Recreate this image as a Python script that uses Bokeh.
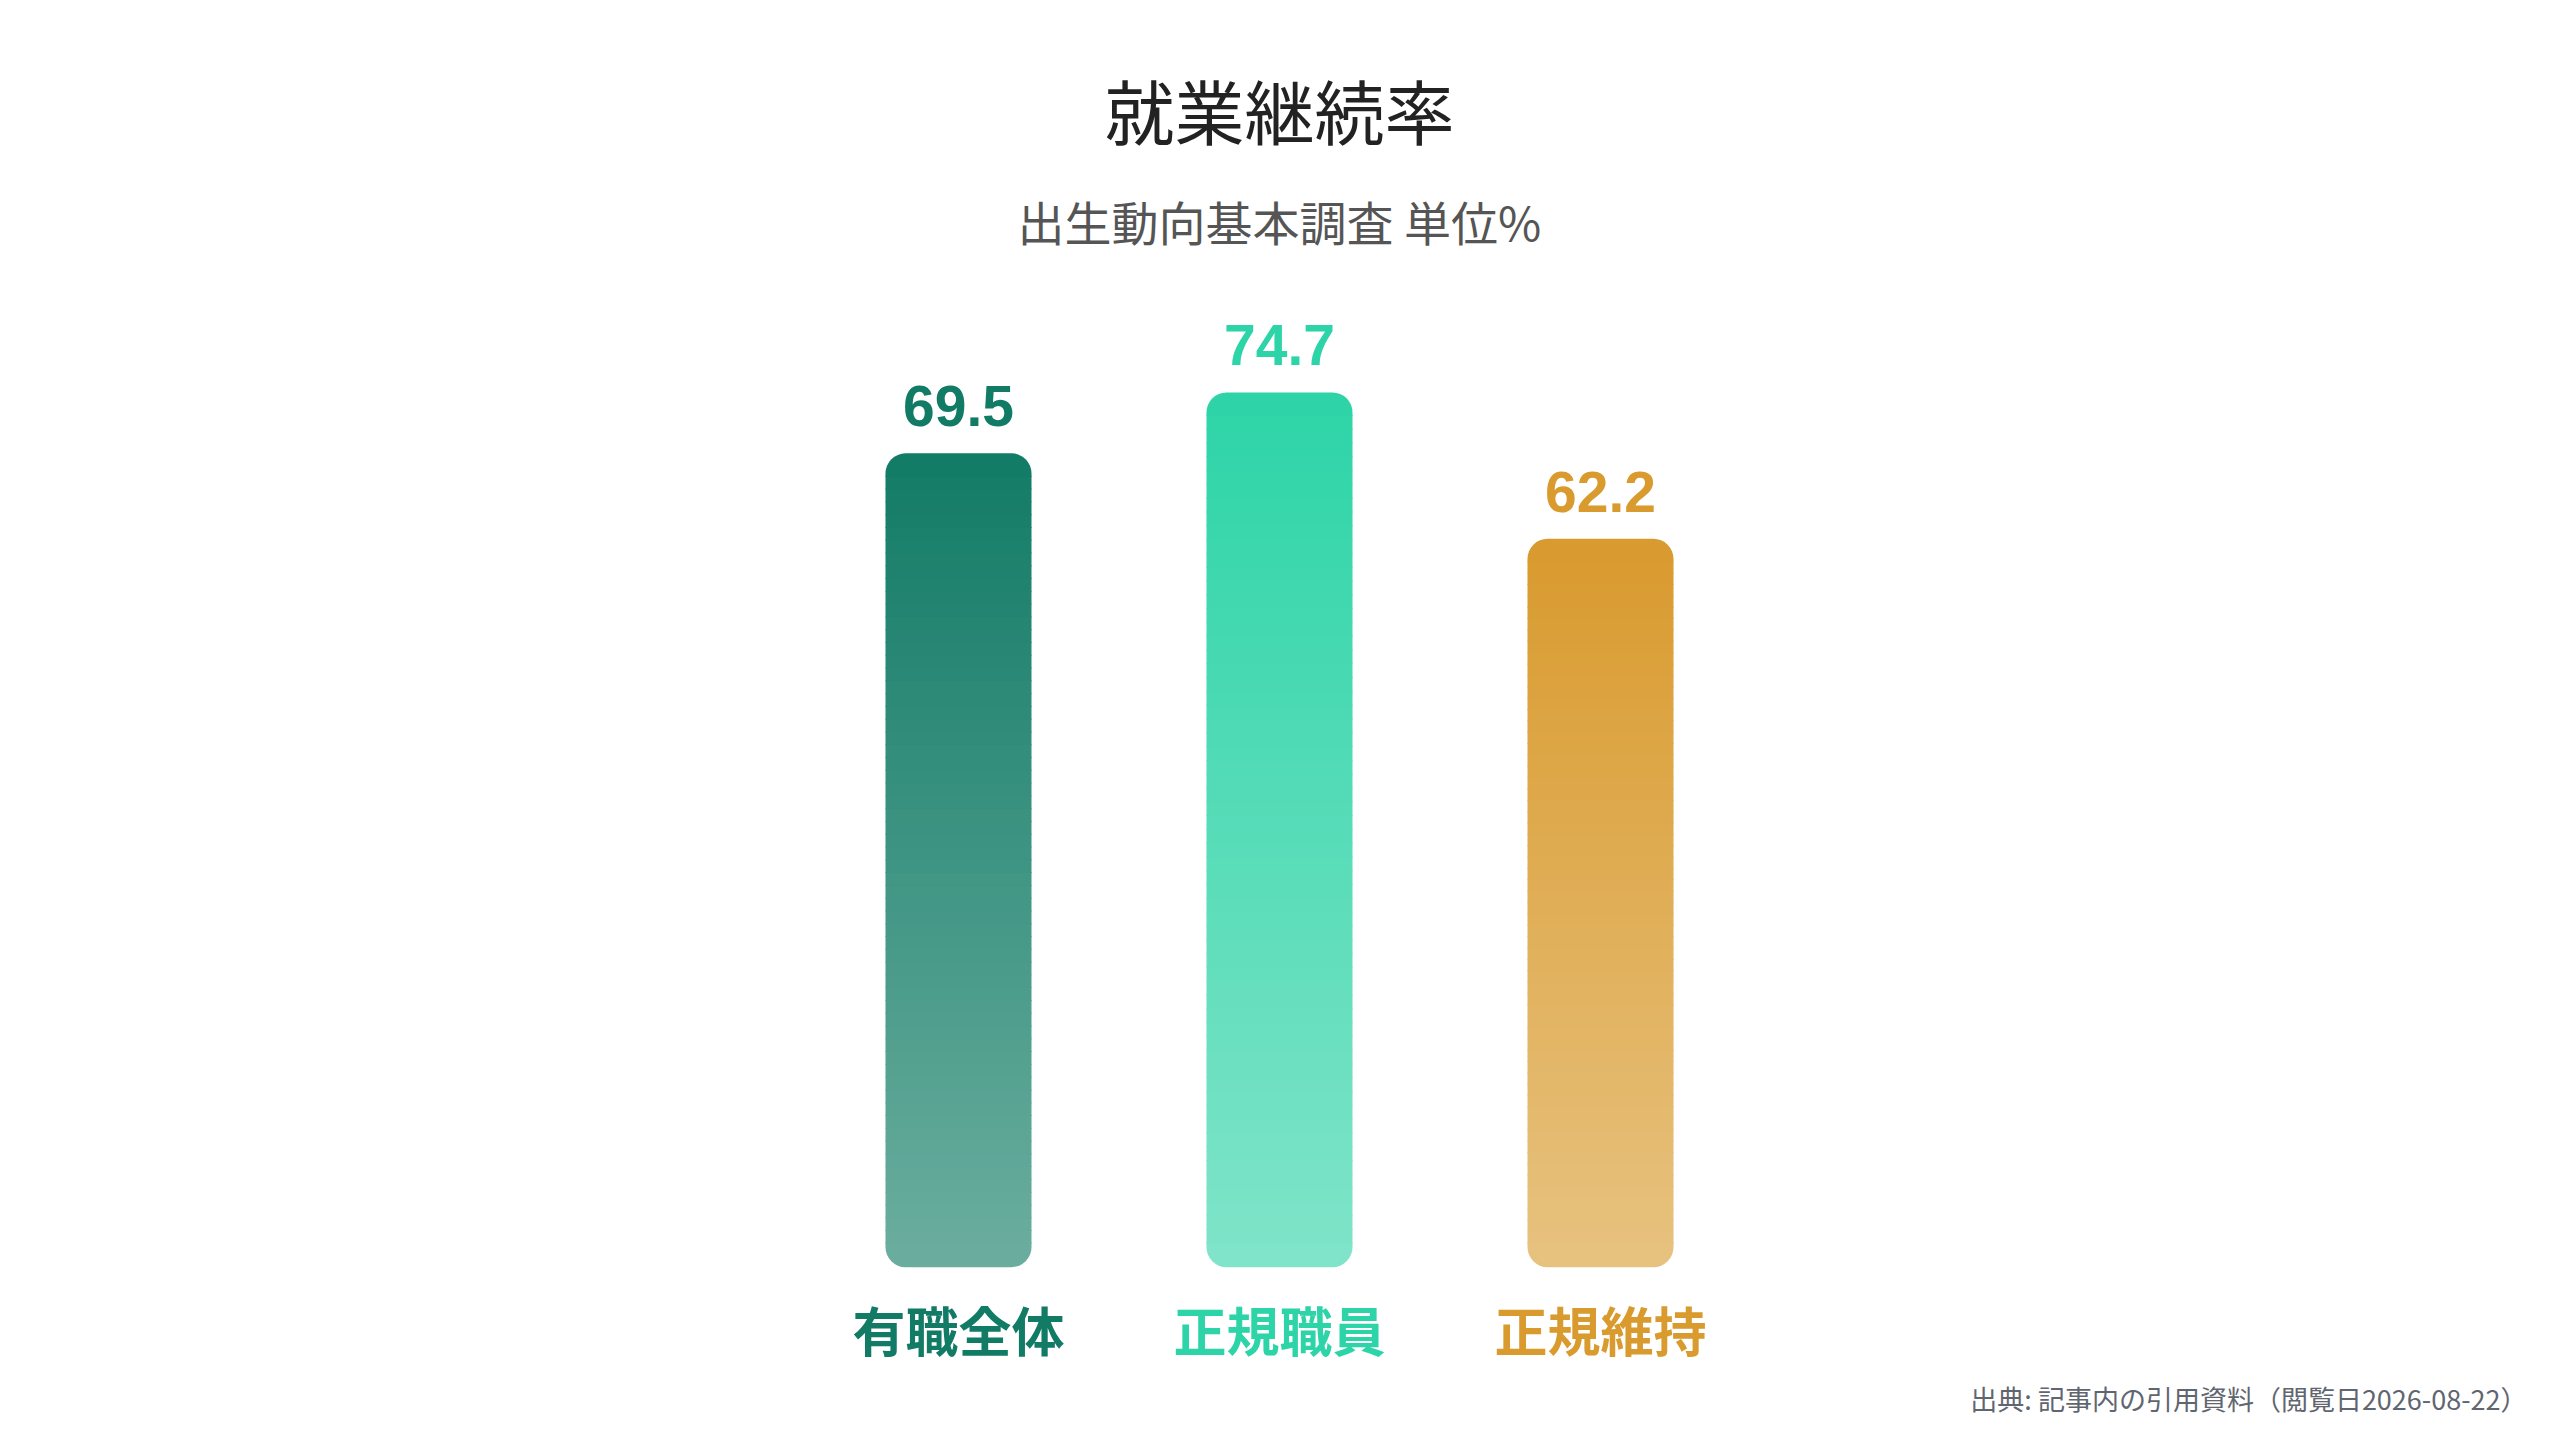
import numpy as np
from bokeh.plotting import figure
from bokeh.models import Range1d, Label, ColumnDataSource
from bokeh.core.properties import value
from bokeh.embed import file_html
from bokeh.resources import INLINE

# ---- data ----
categories = ["有職全体", "正規職員", "正規維持"]
values = [69.5, 74.7, 62.2]
value_labels = ["69.5", "74.7", "62.2"]
top_colors = ["#127B66", "#2DD4A7", "#D99A2E"]
bottom_colors = ["#6BAE9F", "#80E4C9", "#E7C27F"]
title_text = "就業継続率"
subtitle_text = "出生動向基本調査 単位%"
source_text = "出典: 記事内の引用資料（閲覧日2026-08-22）"

W, H = 2544, 1424
px_per_x = 321.0
px_per_y = 11.71
zero_from_top = 1266.7          # pixel row of value 0, from top of figure
zero_from_bottom = H - zero_from_top
center_x_px = 1279.0            # pixel column of middle category

p = figure(width=W, height=H, output_backend="svg", toolbar_location=None,
           x_range=Range1d(1 - center_x_px / px_per_x, 1 + (W - center_x_px) / px_per_x),
           y_range=Range1d(-zero_from_bottom / px_per_y, (H - zero_from_bottom) / px_per_y),
           min_border=0, outline_line_color=None)
p.xaxis.visible = False
p.yaxis.visible = False
p.grid.visible = False
p.background_fill_color = "white"
p.border_fill_color = "white"

xs = list(range(len(categories)))
bar_w = 146.0 / px_per_x
radius = 20
cap = 2.0  # data units of rounded caps
n_mid = 60


def hex2rgb(h):
    h = h.lstrip("#")
    return np.array([int(h[i:i + 2], 16) for i in (0, 2, 4)], dtype=float)


def mix(c0, c1, t):
    c = c0 + (c1 - c0) * t
    return "#%02x%02x%02x" % tuple(int(round(v)) for v in c)


mid = dict(left=[], right=[], bottom=[], top=[], color=[])
topc = dict(left=[], right=[], bottom=[], top=[], color=[])
botc = dict(left=[], right=[], bottom=[], top=[], color=[])
for x, v, ct, cb in zip(xs, values, top_colors, bottom_colors):
    c_top, c_bot = hex2rgb(ct), hex2rgb(cb)
    l, r = x - bar_w / 2, x + bar_w / 2
    botc["left"].append(l); botc["right"].append(r)
    botc["bottom"].append(0); botc["top"].append(cap + 0.1)
    botc["color"].append(mix(c_bot, c_top, (cap / 2) / v))
    edges = np.linspace(cap, v - cap, n_mid + 1)
    for a, b in zip(edges[:-1], edges[1:]):
        mid["left"].append(l); mid["right"].append(r)
        mid["bottom"].append(a); mid["top"].append(b + 0.08)
        mid["color"].append(mix(c_bot, c_top, ((a + b) / 2) / v))
    topc["left"].append(l); topc["right"].append(r)
    topc["bottom"].append(v - cap); topc["top"].append(v)
    topc["color"].append(mix(c_bot, c_top, (v - cap / 2) / v))

p.quad(left="left", right="right", bottom="bottom", top="top", fill_color="color",
       line_color=None, source=ColumnDataSource(botc),
       border_radius=(0, 0, radius, radius))
p.quad(left="left", right="right", bottom="bottom", top="top", fill_color="color",
       line_color=None, source=ColumnDataSource(mid))
p.quad(left="left", right="right", bottom="bottom", top="top", fill_color="color",
       line_color=None, source=ColumnDataSource(topc),
       border_radius=(radius, radius, 0, 0))

lab_src = ColumnDataSource(dict(x=xs, y=values, vl=value_labels, cat=categories,
                                zero=[0] * len(xs), color=top_colors))
p.text(x="x", y="y", text="vl", source=lab_src, text_color="color",
       text_font=value("Liberation Sans"), text_font_style="bold",
       text_font_size="57px", text_align="center", text_baseline="middle",
       y_offset=-47)
p.text(x="x", y="zero", text="cat", source=lab_src, text_color="color",
       text_font=value("Noto Sans CJK JP"), text_font_style="bold",
       text_font_size="53px", text_align="center", text_baseline="middle",
       y_offset=62)

p.add_layout(Label(x=center_x_px, y=H - 109, x_units="screen", y_units="screen",
                   text=title_text, text_font="Noto Sans CJK JP",
                   text_font_size="70px", text_color="#222222",
                   text_align="center", text_baseline="middle"))
p.add_layout(Label(x=center_x_px, y=H - 220, x_units="screen", y_units="screen",
                   text=subtitle_text, text_font="Noto Sans CJK JP",
                   text_font_size="47px", text_color="#555555",
                   text_align="center", text_baseline="middle"))
p.add_layout(Label(x=2527, y=H - 1398, x_units="screen", y_units="screen",
                   text=source_text, text_font="Noto Sans CJK JP",
                   text_font_size="27px", text_color="#5f6670",
                   text_align="right", text_baseline="middle"))

open("out.html", "w").write(file_html(p, INLINE))
